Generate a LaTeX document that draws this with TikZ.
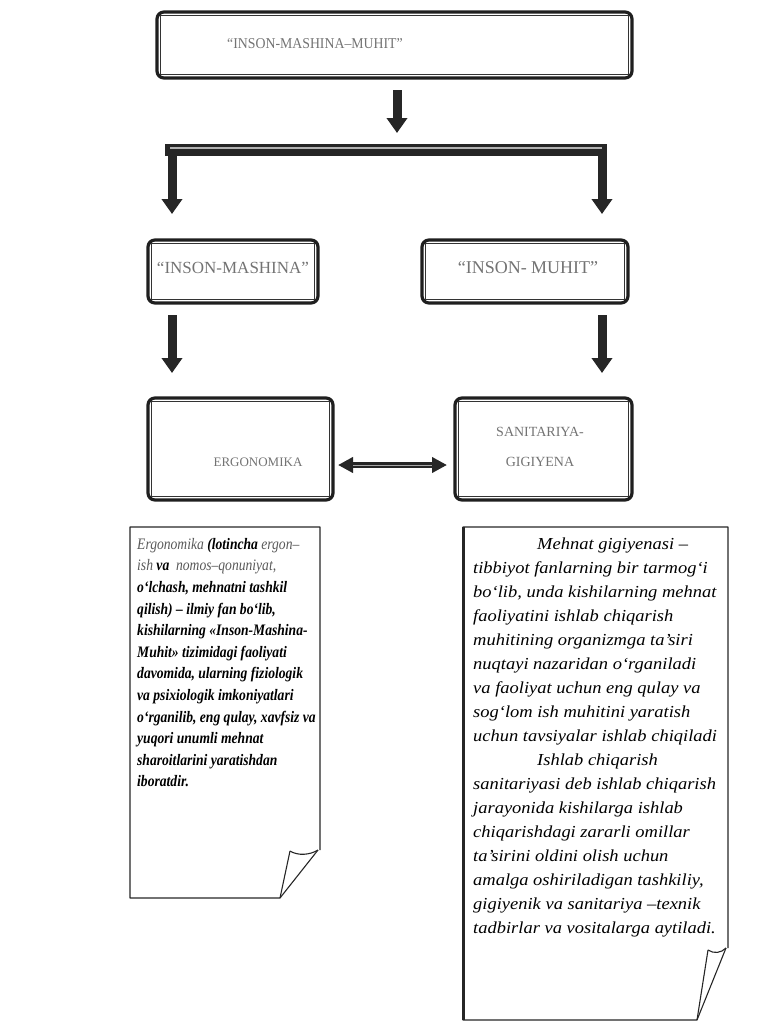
\documentclass[tikz,border=0pt]{standalone}
\usepackage{fontspec}
\setmainfont{Liberation Serif}
\newfontfamily\rtfont[FakeStretch=1.1]{Liberation Serif}
\newfontfamily\ltfont[FakeStretch=0.85]{Liberation Serif}
\newfontfamily\tpfont[FakeStretch=0.92]{Liberation Serif}
\usetikzlibrary{arrows.meta}
\begin{document}
\begin{tikzpicture}[x=1pt,y=-1pt,
  dbox/.style={draw=black!88, line width=3.2pt, rounded corners=7pt, inner sep=0pt},
  innerln/.style={draw=black!80, line width=0.9pt},
  hdr/.style={text=black!55, inner sep=0pt, font=\fontsize{#1}{#1}\selectfont},
  barrow/.style={draw=black!85, line width=9pt, -{Triangle[width=20pt,length=15pt]}},
  darrow/.style={draw=black!85, line width=6pt, {Triangle[width=15pt,length=15pt]}-{Triangle[width=15pt,length=15pt]}},
  paper/.style={draw=black!85, line width=1.1pt, line join=round},
  ltext/.style={inner sep=0pt, anchor=north west, align=left, font=\ltfont\fontsize{16pt}{21.6pt}\selectfont\bfseries\itshape},
  rtext/.style={inner sep=0pt, anchor=north west, align=left, font=\rtfont\fontsize{16.8pt}{24pt}\selectfont\itshape}
]
\useasboundingbox (0,0) rectangle (774,1029);

% header boxes
\node[dbox, minimum width=475pt, minimum height=66pt] (top) at (394.5,45) {};
\node[dbox, minimum width=170pt, minimum height=63pt] (lm) at (233,271.5) {};
\node[dbox, minimum width=206pt, minimum height=63pt] (rm) at (525,271.5) {};
\node[dbox, minimum width=185pt, minimum height=102pt] (lb) at (240.5,449) {};
\node[dbox, minimum width=177pt, minimum height=102pt] (rb) at (543.5,449) {};
\foreach \n in {top,lm,rm,lb,rb}
  \draw[innerln] ([xshift=5pt,yshift=-5pt]\n.north west) rectangle ([xshift=-5pt,yshift=5pt]\n.south east);

\node[hdr=15, font=\tpfont\fontsize{15pt}{15pt}\selectfont] (toptx) at (315,44) {“INSON-MASHINA–MUHIT”};
\node[hdr=17] (lmtx) at (233,268) {“INSON-MASHINA”};
\node[hdr=18] (rmtx) at (528,268) {“INSON- MUHIT”};
\node[hdr=13] (lbtx) at (258,462) {ERGONOMIKA};
\node[hdr=14, align=center, font=\fontsize{14pt}{30pt}\selectfont] (rbtx) at (540,447) {SANITARIYA-\\GIGIYENA};

% arrows
\coordinate (a0s) at (397,90);
\coordinate (a0e) at (397,133);
\draw[barrow] (a0s) -- (a0e);
\coordinate (bl) at (165,150);
\coordinate (br) at (607,150);
\draw[draw=black!85, line width=12pt] (bl) -- (br);
\draw[draw=black!30, line width=1.3pt] ([xshift=5pt,yshift=2pt]bl) -- ([xshift=-5pt,yshift=2pt]br);
\coordinate (l1s) at (172,152);
\coordinate (l1e) at (172,214);
\coordinate (r1s) at (602,152);
\coordinate (r1e) at (602,214);
\draw[barrow] (l1s) -- (l1e);
\draw[barrow] (r1s) -- (r1e);
\coordinate (l2s) at (172,315);
\coordinate (l2e) at (172,373);
\coordinate (r2s) at (602,315);
\coordinate (r2e) at (602,373);
\draw[barrow] (l2s) -- (l2e);
\draw[barrow] (r2s) -- (r2e);
\coordinate (d1) at (338,465);
\coordinate (d2) at (447,465);
\draw[darrow] (d1) -- (d2);
\draw[draw=black!35, line width=1pt] ([xshift=15pt]d1) -- ([xshift=-15pt]d2);

% left paper
\draw[paper] (320,850) -- (320,527) -- (130,527) -- (130,898) -- (280,898) -- (318,850);
\draw[paper] (290,851) -- (280,898);
\draw[paper] (290,851) .. controls (298,856) and (310,855) .. (318,850);
% right paper
\draw[paper] (728,948) -- (728,527) -- (463,527) -- (463,1020) -- (697,1020) -- (726,948);
\draw[draw=black!85, line width=3pt] (463,527) -- (463,1020);
\draw[paper] (708,950) -- (697,1020);
\draw[paper] (708,950) .. controls (714,954) and (721,953) .. (726,948);

\node[ltext] (ltx) at (137,538) {{\mdseries\color{black!65}Ergonomika} (lotincha {\mdseries\color{black!65}ergon–}\\
{\mdseries\color{black!65}ish} va\ \ {\mdseries\color{black!65}nomos–qonuniyat,}\\
o‘lchash, mehnatni tashkil\\
qilish) – ilmiy fan bo‘lib,\\
kishilarning «Inson-Mashina-\\
Muhit» tizimidagi faoliyati\\
davomida, ularning fiziologik\\
va psixiologik imkoniyatlari\\
o‘rganilib, eng qulay, xavfsiz va\\
yuqori unumli mehnat\\
sharoitlarini yaratishdan\\
iboratdir.};

\node[rtext] (rtx) at (473,538) {\hspace*{64pt}Mehnat gigiyenasi –\\
tibbiyot fanlarning bir tarmog‘i\\
bo‘lib, unda kishilarning mehnat\\
faoliyatini ishlab chiqarish\\
muhitining organizmga ta’siri\\
nuqtayi nazaridan o‘rganiladi\\
va faoliyat uchun eng qulay va\\
sog‘lom ish muhitini yaratish\\
uchun tavsiyalar ishlab chiqiladi\\
\hspace*{64pt}Ishlab chiqarish\\
sanitariyasi deb ishlab chiqarish\\
jarayonida kishilarga ishlab\\
chiqarishdagi zararli omillar\\
ta’sirini oldini olish uchun\\
amalga oshiriladigan tashkiliy,\\
gigiyenik va sanitariya –texnik\\
tadbirlar va vositalarga aytiladi.};
\end{tikzpicture}
\end{document}
